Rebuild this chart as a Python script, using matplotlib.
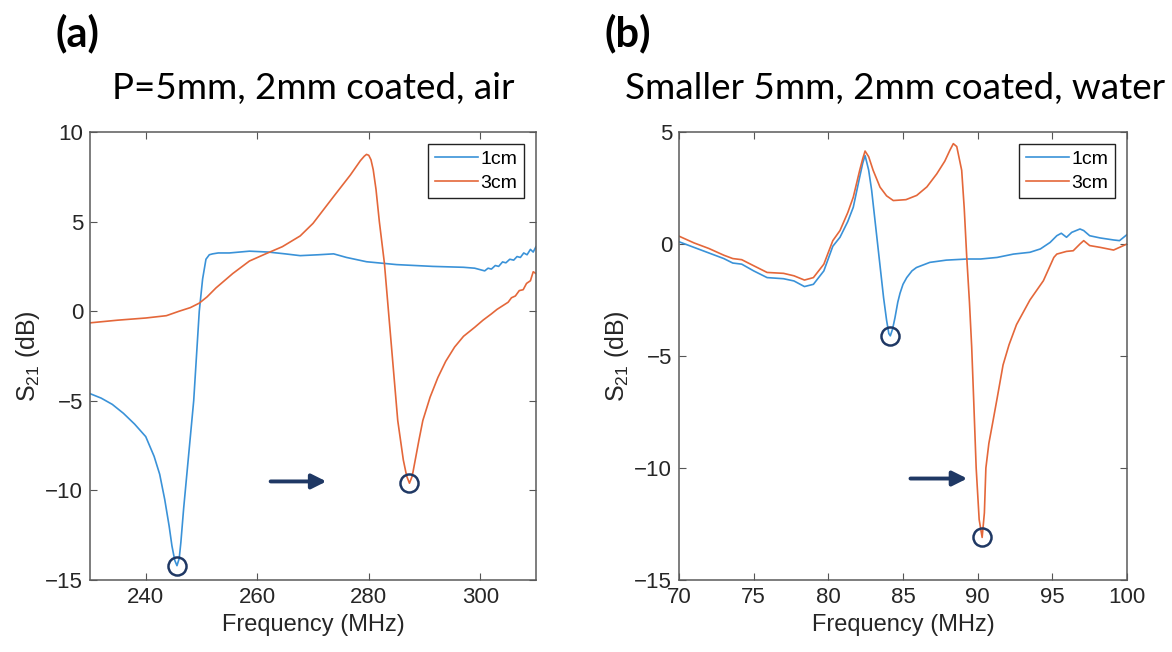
import matplotlib
matplotlib.use("Agg")
import matplotlib.pyplot as plt
import numpy as np

# panel (a): P=5mm, 2mm coated, air
freq_a_1cm = [230, 232, 234, 236, 238, 240, 241.5, 242.5, 243.4, 244.2, 244.7, 245.2, 245.6,
              246.0, 246.3, 246.8, 247.4, 248.0, 248.6, 249.1, 249.6, 250.2, 250.8, 251.4,
              252, 253, 255, 258.6, 262, 265, 267.7, 271, 273.7, 276, 279.6,
              285, 291.5, 297, 299, 300.2, 300.8, 301.4, 302, 302.7, 303.3, 304, 304.6,
              305.3, 306, 306.6, 307.2, 307.8, 308.4, 309, 309.5, 310]
s21_a_1cm = [-4.6, -4.85, -5.2, -5.7, -6.3, -7.0, -8.1, -9.1, -10.5, -12.0, -13.1, -13.9, -14.2,
             -13.8, -12.9, -11.0, -9.0, -7.0, -5.0, -2.5, 0.0, 1.8, 2.9, 3.15,
             3.2, 3.25, 3.25, 3.35, 3.3, 3.2, 3.1, 3.15, 3.2, 3.0, 2.76,
             2.6, 2.5, 2.45, 2.4, 2.3, 2.25, 2.4, 2.35, 2.55, 2.5, 2.75, 2.7,
             2.9, 2.85, 3.05, 3.0, 3.25, 3.15, 3.45, 3.3, 3.6]

freq_a_3cm = [230, 235, 240, 243.7, 246, 248, 249.6, 251, 252.6, 255.6, 258.6, 261.5,
              264.5, 267.7, 270, 273.7, 276.7, 278.5, 279.2, 279.6, 280.0, 280.4, 280.8,
              281.3, 281.9, 282.8, 283.7, 285.2, 286.2, 286.8, 287.3, 287.8, 288.4, 289.0,
              289.7, 291, 292.4, 293.8, 295.4, 297, 299, 300.5, 302, 303, 304, 305, 305.6,
              306.3, 307, 307.7, 308.3, 309, 309.5, 310]
s21_a_3cm = [-0.65, -0.5, -0.38, -0.25, 0.0, 0.2, 0.45, 0.8, 1.3, 2.1, 2.8, 3.2,
             3.6, 4.2, 4.9, 6.4, 7.6, 8.4, 8.65, 8.75, 8.7, 8.45, 7.9,
             6.8, 5.0, 2.7, -0.6, -6.1, -8.3, -9.2, -9.6, -9.2, -8.2, -7.2,
             -6.1, -4.8, -3.7, -2.8, -2.0, -1.4, -0.9, -0.5, -0.15, 0.1, 0.3, 0.5, 0.75,
             0.85, 1.15, 1.2, 1.55, 1.7, 2.2, 2.1]

# panel (b): Smaller 5mm, 2mm coated, water
freq_b_1cm = [70, 71, 72, 73, 73.6, 74.2, 75, 75.9, 77, 77.7, 78.4, 79, 79.7, 80.3,
              80.78, 81.3, 81.67, 82.1, 82.3, 82.46, 82.7, 82.9, 83.1, 83.3, 83.5, 83.7,
              83.9, 84.05, 84.15, 84.3, 84.46, 84.65, 84.8, 85.0, 85.25, 85.6, 85.9, 86.8,
              87.9, 89.3, 90.2, 91.3, 92.4, 93.5, 94.2, 94.85, 95.3,
              95.6, 95.95, 96.3, 96.85, 97.1, 97.5, 98.2, 99.1, 99.5, 100]
s21_b_1cm = [0.1, -0.15, -0.4, -0.65, -0.85, -0.9, -1.2, -1.5, -1.55, -1.65, -1.9, -1.8, -1.2, -0.1,
             0.3, 1.0, 1.64, 2.99, 3.6, 3.95, 3.3, 2.4, 1.2, 0.0, -1.2, -2.4,
             -3.4, -4.0, -4.1, -3.8, -3.3, -2.6, -2.2, -1.8, -1.5, -1.2, -1.05, -0.82,
             -0.72, -0.67, -0.67, -0.6, -0.45, -0.37, -0.22, 0.07, 0.37,
             0.48, 0.3, 0.52, 0.67, 0.6, 0.37, 0.27, 0.18, 0.15, 0.42]

freq_b_3cm = [70, 71, 72, 73, 73.6, 74.2, 75, 75.9, 77, 77.7, 78.4, 79, 79.7, 80.3,
              80.78, 81.3, 81.67, 82.1, 82.3, 82.46, 82.7, 83.0, 83.46, 83.9, 84.35, 85.2,
              85.92, 86.6, 87.26, 87.8, 88.15, 88.37, 88.6, 88.93, 89.1, 89.27, 89.45,
              89.6, 89.73, 89.9, 90.1, 90.3, 90.45, 90.55, 90.75, 91.0, 91.3, 91.7, 92.1,
              92.6, 93.5, 94.4, 95.1, 95.3, 95.95, 96.4, 96.85, 97.1, 97.5, 98.2,
              99.1, 99.5, 100]
s21_b_3cm = [0.35, 0.05, -0.2, -0.5, -0.65, -0.7, -0.97, -1.27, -1.31, -1.42, -1.61, -1.5, -0.9, 0.15,
             0.6, 1.4, 2.09, 3.29, 3.8, 4.15, 3.9, 3.29, 2.54, 2.15, 1.94, 1.98,
             2.17, 2.55, 3.13, 3.7, 4.2, 4.48, 4.35, 3.29, 1.6, -0.6, -2.6,
             -4.6, -6.9, -10.0, -12.3, -13.1, -12.0, -10.0, -8.9, -8.0, -6.9, -5.4, -4.5,
             -3.6, -2.5, -1.64, -0.6, -0.45, -0.33, -0.3, 0.0, 0.15, -0.07, -0.15,
             -0.27, -0.15, 0.0]

# arrows (start x, end x, y)
arrow_a = (262.4, 272.4, -9.5)
arrow_b = (85.5, 89.3, -10.47)

blue = "#3a92d8"
orange = "#e4673a"
navy = "#1f3864"
dark = "#262626"

plt.rcParams["font.family"] = ["Liberation Sans", "DejaVu Sans"]
plt.rcParams["mathtext.fontset"] = "custom"
plt.rcParams["mathtext.rm"] = "Liberation Sans"
plt.rcParams["mathtext.default"] = "regular"

fig = plt.figure(figsize=(11.72, 6.52), dpi=100)
ax_a = fig.add_axes([90 / 1172, 72 / 652, 446 / 1172, 448 / 652])
ax_b = fig.add_axes([679 / 1172, 72 / 652, 448 / 1172, 448 / 652])


def draw_panel(ax, f1, s1, f3, s3, arrow, xlim, ylim, xticks, yticks):
    ax.plot(f1, s1, color=blue, lw=1.2, label="1cm")
    ax.plot(f3, s3, color=orange, lw=1.2, label="3cm")
    # circle the resonance dips
    for f, s in ((f1, s1), (f3, s3)):
        i = int(np.argmin(s))
        ax.plot(f[i], s[i], "o", ms=13, mfc="none", mec=navy, mew=1.8)
    ax.annotate("", xy=(arrow[1], arrow[2]), xytext=(arrow[0], arrow[2]),
                arrowprops=dict(arrowstyle="-|>", lw=2.8, color=navy, mutation_scale=22,
                                shrinkA=0, shrinkB=0))
    ax.set_xlim(xlim)
    ax.set_ylim(ylim)
    ax.set_xticks(xticks)
    ax.set_yticks(yticks)
    ax.tick_params(direction="in", top=True, right=True, length=5, width=0.8,
                   color="#555555", labelcolor=dark, labelsize=16, pad=5)
    for sp in ax.spines.values():
        sp.set_color("#5a5a5a")
        sp.set_linewidth(1.1)
    ax.set_xlabel("Frequency (MHz)", fontsize=17, color=dark, labelpad=4)
    ax.set_ylabel("S$_{21}$ (dB)", fontsize=18, color=dark, labelpad=2)
    leg = ax.legend(loc="upper right", fontsize=14, handlelength=2.2, handletextpad=0.15,
                    borderpad=0.35, labelspacing=0.3, borderaxespad=0.6,
                    fancybox=False, framealpha=1)
    leg.get_frame().set_edgecolor("#222222")
    leg.get_frame().set_linewidth(1.0)


draw_panel(ax_a, freq_a_1cm, s21_a_1cm, freq_a_3cm, s21_a_3cm, arrow_a,
           (230, 310), (-15, 10), [240, 260, 280, 300], [-15, -10, -5, 0, 5, 10])
draw_panel(ax_b, freq_b_1cm, s21_b_1cm, freq_b_3cm, s21_b_3cm, arrow_b,
           (70, 100), (-15, 5), [70, 75, 80, 85, 90, 95, 100], [-15, -10, -5, 0, 5])

title_font = ["Lato", "DejaVu Sans"]
fig.text(313 / 1172, 1 - 88 / 652, "P=5mm, 2mm coated, air", fontsize=26.5,
         family=title_font, ha="center", va="center")
fig.text(895 / 1172, 1 - 88 / 652, "Smaller 5mm, 2mm coated, water", fontsize=26.5,
         family=title_font, ha="center", va="center")
fig.text(77 / 1172, 1 - 33 / 652, "(a)", fontsize=30, fontweight="bold",
         family=title_font, ha="center", va="center")
fig.text(628 / 1172, 1 - 33 / 652, "(b)", fontsize=30, fontweight="bold",
         family=title_font, ha="center", va="center")

fig.savefig("out.png", dpi=100)
